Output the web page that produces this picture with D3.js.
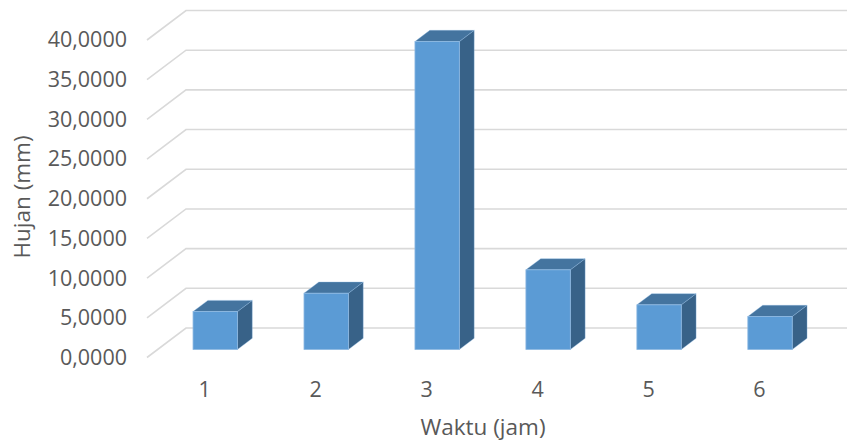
<!DOCTYPE html>
<html>
<head>
<meta charset="utf-8">
<script src="https://cdn.jsdelivr.net/npm/d3@7"></script>
<style>
  html, body { margin: 0; padding: 0; background: #ffffff; }
  svg { display: block; }
  text { font-family: "Open Sans", "Liberation Sans", sans-serif; fill: #595959; }
</style>
</head>
<body>
<svg id="chart" width="847" height="443"></svg>
<script>
// Rainfall per hour
const categories = ["1", "2", "3", "4", "5", "6"];
const rainfall = [4.78, 7.09, 38.8, 10.04, 5.63, 4.16];
const yTicks = [0, 5, 10, 15, 20, 25, 30, 35, 40];
const xTitle = "Waktu (jam)";
const yTitle = "Hujan (mm)";

const W = 847, H = 443;
const svg = d3.select("#chart");

// Oblique projection: depth 0 = front plane, 1 = back wall
const DX = 39, DY = 29.5;
const frontLeft = 147;
const step = 111.7;

const x = d3.scaleBand()
  .domain(categories)
  .range([frontLeft, frontLeft + step * categories.length])
  .paddingInner(0.6)
  .paddingOuter(0.32);

const y = d3.scaleLinear().domain([0, 40]).range([357.5, 40]);

const px = (xv, d) => xv + DX * d;
const py = (v, d) => y(v) - DY * d;

const fmt = d3.formatLocale({ decimal: ",", thousands: ".", grouping: [3], currency: ["", ""] }).format(".4f");

// Gridlines: left wall diagonal + back wall horizontal
svg.append("g").selectAll("path")
  .data(yTicks)
  .join("path")
  .attr("d", t => `M${px(frontLeft, 0)},${py(t, 0)}L${px(frontLeft, 1)},${py(t, 1)}L${W + 10},${py(t, 1)}`)
  .attr("fill", "none")
  .attr("stroke", "#d9d9d9")
  .attr("stroke-width", 1.6);

// Y axis labels on the front plane
const yAxis = svg.append("g")
  .attr("transform", `translate(127,0)`)
  .call(d3.axisLeft(y).tickValues(yTicks).tickSize(0).tickPadding(0).tickFormat(fmt));
yAxis.select(".domain").remove();
yAxis.selectAll("text").style("font-size", "21.5px").attr("fill", "#595959")
  .style("font-family", "'Open Sans', sans-serif");

// X axis labels
const xAxis = svg.append("g")
  .attr("transform", `translate(0,${y(0)})`)
  .call(d3.axisBottom(x).tickSize(0).tickPadding(24));
xAxis.select(".domain").remove();
xAxis.selectAll("text").style("font-size", "21.5px").attr("fill", "#595959")
  .style("font-family", "'Open Sans', sans-serif");

// 3D columns
const d0 = 0.27, d1 = 0.65;
const bars = svg.append("g").selectAll("g")
  .data(categories.map((c, i) => ({ c, v: rainfall[i] })))
  .join("g");

const edge = "#8db8e2";
// right side face
bars.append("path")
  .attr("d", b => {
    const xr = x(b.c) + x.bandwidth();
    return `M${px(xr, d0)},${py(0, d0)}L${px(xr, d1)},${py(0, d1)}L${px(xr, d1)},${py(b.v, d1)}L${px(xr, d0)},${py(b.v, d0)}Z`;
  })
  .attr("fill", "#386288")
  .attr("stroke", edge).attr("stroke-width", 0.6).attr("stroke-opacity", 0.6);
// top face
bars.append("path")
  .attr("d", b => {
    const xl = x(b.c), xr = xl + x.bandwidth();
    return `M${px(xl, d0)},${py(b.v, d0)}L${px(xr, d0)},${py(b.v, d0)}L${px(xr, d1)},${py(b.v, d1)}L${px(xl, d1)},${py(b.v, d1)}Z`;
  })
  .attr("fill", "#44749f")
  .attr("stroke", edge).attr("stroke-width", 0.6).attr("stroke-opacity", 0.6);
// front face
bars.append("rect")
  .attr("x", b => px(x(b.c), d0))
  .attr("y", b => py(b.v, d0))
  .attr("width", x.bandwidth())
  .attr("height", b => py(0, d0) - py(b.v, d0))
  .attr("fill", "#5b9bd5")
  .attr("stroke", edge).attr("stroke-width", 0.8);

// Axis titles
svg.append("text")
  .attr("x", 483).attr("y", 435)
  .attr("text-anchor", "middle")
  .style("font-size", "22.5px")
  .text(xTitle);

svg.append("text")
  .attr("transform", "translate(30,197) rotate(-90)")
  .attr("text-anchor", "middle")
  .style("font-size", "22.5px")
  .text(yTitle);
</script>
</body>
</html>
